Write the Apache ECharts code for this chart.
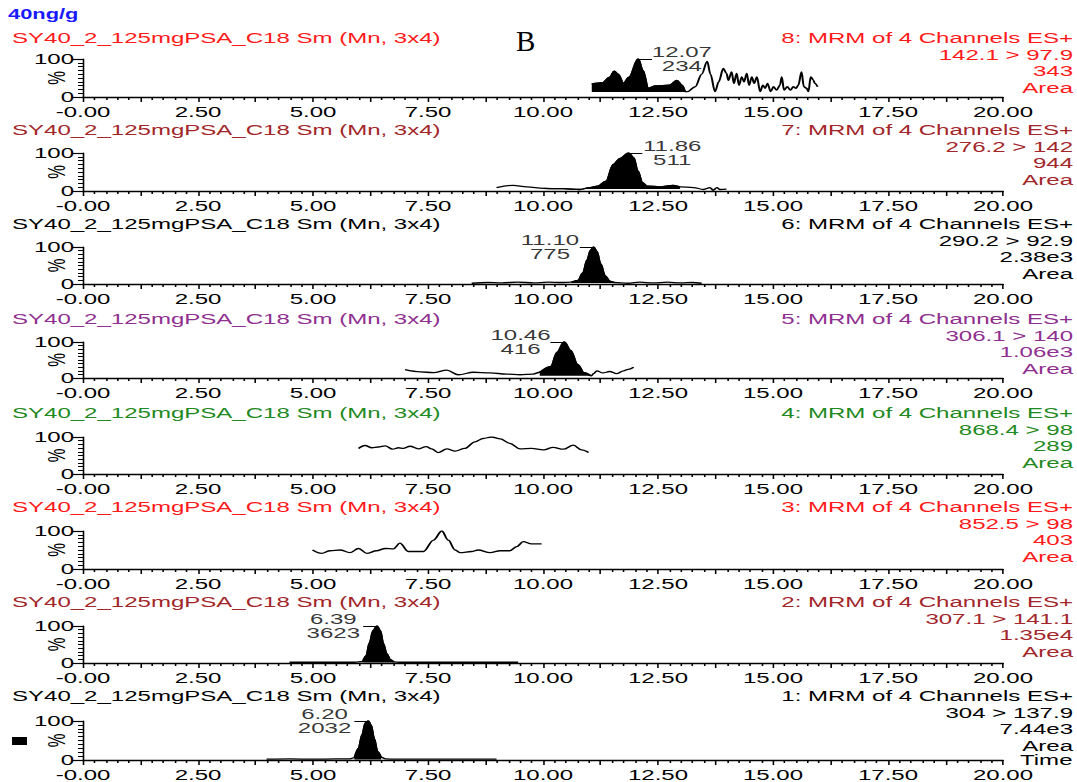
<!DOCTYPE html>
<html>
<head>
<meta charset="utf-8">
<script src="https://cdn.jsdelivr.net/npm/echarts@6/dist/echarts.min.js"></script>
<style>
  html, body { margin: 0; padding: 0; background: #fff; overflow: hidden; }
  #wrap { width: 1077px; height: 782px; overflow: hidden; position: relative; }
  #chart { width: 690px; height: 782px; transform-origin: 0 0; }
</style>
</head>
<body>
<div id="wrap"><div id="chart"></div></div>
<script>
// ---- chromatogram data (time in min, relative intensity in %) ----
const sampleName = 'SY40_2_125mgPSA_C18 Sm (Mn, 3x4)';
const concentration = '40ng/g';
const channelIds = ['8', '7', '6', '5', '4', '3', '2', '1'];
const transitions = ['142.1 > 97.9', '276.2 > 142', '290.2 > 92.9', '306.1 > 140',
                     '868.4 > 98', '852.5 > 98', '307.1 > 141.1', '304 > 137.9'];
const intensities = ['343', '944', '2.38e3', '1.06e3', '289', '403', '1.35e4', '7.44e3'];
const peakTimes = [12.07, 11.86, 11.10, 10.46, null, null, 6.39, 6.20];
const peakAreas = ['234', '511', '775', '416', null, null, '3623', '2032'];
// integrated window [start, end, baseline %]
const integration = [[11.06, 13.09, 13], [10.00, 12.98, 5], [10.62, 11.55, 3], [9.90, 11.08, 6],
                     null, null, [6.08, 6.76, 1.5], [5.88, 6.50, 1.5]];
const xTickLabels = ['-0.00', '2.50', '5.00', '7.50', '10.00', '12.50', '15.00', '17.50', '20.00'];

const trace8 = [[11.06,34],[11.30,38],[11.45,52],[11.55,68],[11.63,60],[11.75,36],[11.87,52],[12.07,100],
  [12.17,70],[12.29,23],[12.45,29],[12.75,31],[12.91,44],[13.02,31],[13.09,14],[13.14,14],[13.31,27],
  [13.45,60],[13.57,94],[13.64,60],[13.74,14],[13.82,40],[13.92,75],[13.99,62],[14.03,44],[14.10,66],
  [14.15,36],[14.21,62],[14.26,31],[14.32,53],[14.37,40],[14.43,62],[14.48,31],[14.54,53],[14.59,36],
  [14.65,53],[14.72,14],[14.78,31],[14.83,23],[14.88,36],[14.95,14],[15.01,27],[15.08,18],[15.15,31],
  [15.19,53],[15.24,18],[15.31,27],[15.38,18],[15.44,27],[15.50,23],[15.55,31],[15.62,66],[15.67,27],
  [15.73,23],[15.77,14],[15.82,53],[15.88,44],[15.91,36],[15.97,27]];
const trace7 = [[8.99,9],[9.35,15],[9.65,11],[10.01,7],[10.44,6],[10.80,4],[11.02,9],[11.19,13],[11.37,26],
  [11.53,70],[11.68,86],[11.86,100],[11.97,88],[12.06,53],[12.16,22],[12.26,13],[12.54,11],[12.83,15],
  [12.98,11],[13.27,9],[13.49,4],[13.63,9],[13.70,2],[13.78,9],[13.85,4],[13.99,5]];
const trace6 = [[8.45,2],[8.80,4],[9.10,3],[9.45,5],[9.80,3],[10.10,5],[10.40,4],[10.62,5],[10.76,10],
  [10.87,30],[10.96,65],[11.04,92],[11.10,100],[11.17,88],[11.25,55],[11.35,22],[11.45,8],[11.55,4],
  [11.85,2],[12.10,5],[12.40,3],[12.70,5],[13.00,3],[13.25,4],[13.45,2]];
const trace5 = [[7.00,23],[7.33,17],[7.62,15],[7.91,22],[8.16,9],[8.49,16],[8.85,14],[9.21,11],[9.50,9],
  [9.79,11],[9.93,16],[10.17,32],[10.31,72],[10.46,100],[10.60,77],[10.75,38],[10.89,15],[11.05,6],
  [11.10,12],[11.17,20],[11.30,14],[11.45,18],[11.60,12],[11.75,20],[11.85,24],[11.97,30]];
const trace4 = [[5.99,69],[6.13,77],[6.28,71],[6.42,73],[6.57,76],[6.73,67],[6.86,71],[6.96,69],[7.11,75],
  [7.29,68],[7.46,74],[7.58,68],[7.72,58],[7.91,68],[8.09,62],[8.30,69],[8.52,87],[8.70,96],[8.88,100],
  [9.07,95],[9.28,83],[9.50,68],[9.75,69],[10.01,65],[10.22,72],[10.44,67],[10.66,78],[10.84,65],[10.99,58]];
const trace3 = [[4.99,50],[5.19,41],[5.37,48],[5.59,50],[5.80,43],[5.99,54],[6.17,41],[6.38,48],[6.57,54],
  [6.75,53],[6.89,68],[7.07,46],[7.40,46],[7.62,76],[7.80,100],[7.94,76],[8.09,50],[8.20,43],[8.45,46],
  [8.59,50],[8.85,43],[9.07,48],[9.28,48],[9.43,59],[9.57,72],[9.75,66],[9.97,66]];
const trace2 = [[4.49,2],[5.00,2],[5.50,2],[5.90,2],[6.08,4],[6.16,20],[6.23,55],[6.31,88],[6.39,100],
  [6.46,88],[6.53,52],[6.60,25],[6.68,9],[6.76,3],[6.90,2],[7.30,2],[7.80,2],[8.30,2],[8.80,2],[9.46,2]];
const trace1 = [[3.99,2],[4.50,3],[5.00,2],[5.50,3],[5.80,3],[5.90,6],[5.99,30],[6.07,65],[6.14,95],
  [6.20,100],[6.26,90],[6.33,55],[6.40,22],[6.48,7],[6.58,3],[6.80,2],[7.30,2],[8.00,2],[8.50,2],[8.99,2]];
const traces = [trace8, trace7, trace6, trace5, trace4, trace3, trace2, trace1];

// ---- page geometry (screen pixels) ----
const SX = 1077 / 690;               // horizontal stretch of the whole plate
const u = px => px / SX;             // screen px -> chart px (x direction)
const axisBottom = [97, 191, 284, 378, 474, 569, 663, 760];
const axisTop = [59, 153, 247, 342, 437, 531, 626, 721];
const titleY = [38, 130, 224, 319, 413, 507, 602, 696];
const titleColors = ['#ff1a1a', '#a3262a', '#000000', '#8f2f8f', '#1f8a22', '#ff1a1a', '#a3262a', '#000000'];
const labelSide = ['right', 'right', 'left', 'left', null, null, 'left', 'left'];
const FAMILY = '"Liberation Sans", Arial, sans-serif';
const FS = 15.4;
const LW = 1.3;

document.getElementById('chart').style.transform = 'scaleX(' + SX + ')';
const chart = echarts.init(document.getElementById('chart'), null, { renderer: 'svg' });

const grids = [], xAxes = [], yAxes = [], series = [], texts = [];

function xLabel(v) {
  const k = v / 2.5;
  if (Math.abs(k - Math.round(k)) > 1e-6) return '';
  return xTickLabels[Math.round(k)];
}

traces.forEach((trace, i) => {
  const last = i === traces.length - 1;
  grids.push({
    left: u(83), right: u(1077 - 1003), top: axisTop[i], height: axisBottom[i] - axisTop[i],
    containLabel: false, outerBoundsMode: 'none'
  });
  xAxes.push({
    gridIndex: i, type: 'value', min: 0, max: 20, interval: 1.25,
    axisLine: { onZero: false, lineStyle: { color: '#000', width: 1.4 } },
    axisTick: { length: 5, lineStyle: { color: '#000', width: 1 } },
    minorTick: { show: true, splitNumber: 5, length: 3, lineStyle: { color: '#000', width: 1 } },
    splitLine: { show: false },
    axisLabel: { formatter: xLabel, color: '#000', fontSize: FS, fontFamily: FAMILY, margin: 7,
                 showMinLabel: true, showMaxLabel: true, hideOverlap: false },
    name: last ? 'Time' : '', nameLocation: 'end', nameGap: u(17), nameMoveOverlap: false,
    nameTextStyle: { color: '#000', fontSize: FS, fontFamily: FAMILY, verticalAlign: 'middle' }
  });
  yAxes.push({
    gridIndex: i, type: 'value', min: 0, max: 100, interval: 100,
    axisLine: { show: true, lineStyle: { color: '#000', width: 1 } },
    axisTick: { show: true, length: u(11), lineStyle: { color: '#000', width: 1.2 } },
    minorTick: { show: true, splitNumber: 10, length: u(5), lineStyle: { color: '#000', width: 1 } },
    splitLine: { show: false },
    axisLabel: { color: '#000', fontSize: FS, fontFamily: FAMILY, margin: u(9) },
    name: '%', nameLocation: 'middle', nameRotate: 90, nameGap: u(15), nameMoveOverlap: false,
    nameTextStyle: { color: '#000', fontSize: FS, fontFamily: FAMILY }
  });

  series.push({
    type: 'line', xAxisIndex: i, yAxisIndex: i, data: trace, symbol: 'none',
    smooth: 0.35, smoothMonotone: 'x', lineStyle: { color: '#000', width: LW }, silent: true, z: 3
  });

  const win = integration[i];
  if (win) {
    series.push({
      type: 'line', xAxisIndex: i, yAxisIndex: i, symbol: 'none', smooth: 0.35, smoothMonotone: 'x',
      data: trace.filter(p => p[0] >= win[0] - 1e-9 && p[0] <= win[1] + 1e-9),
      lineStyle: { color: '#000', width: LW }, areaStyle: { color: '#000', opacity: 1, origin: win[2] },
      silent: true, z: 2
    });
  }

  if (peakTimes[i] !== null) {
    const side = labelSide[i];
    const t = peakTimes[i];
    series.push({
      type: 'scatter', xAxisIndex: i, yAxisIndex: i, symbolSize: 0, silent: true, z: 5,
      data: [[t, 100]],
      label: {
        show: true, position: side, distance: u(14),
        formatter: '{v|' + t.toFixed(2) + '}\n{a|' + peakAreas[i] + '}',
        rich: {
          v: { width: 38, align: 'center', fontSize: FS, fontFamily: FAMILY, color: '#000', lineHeight: 14 },
          a: { width: 38, align: 'center', fontSize: FS, fontFamily: FAMILY, color: '#000', lineHeight: 14 }
        }
      },
      markLine: {
        silent: true, symbol: ['none', 'none'], animation: false,
        label: { show: false },
        lineStyle: { color: '#000', width: 1, type: 'solid' },
        data: [[{ coord: [t, 100] }, { coord: [t + (side === 'right' ? 0.3 : -0.3), 100] }]]
      }
    });
  }

  // sample name (left) and channel description block (right)
  texts.push({
    type: 'text', x: u(12), y: titleY[i] - 9, silent: true,
    style: { text: sampleName, fill: titleColors[i], fontSize: FS, fontFamily: FAMILY,
             textVerticalAlign: 'top', lineHeight: 18 }
  });
  texts.push({
    type: 'text', x: u(1073), y: titleY[i] - 8.5, silent: true,
    style: { text: channelIds[i] + ': MRM of 4 Channels ES+\n' + transitions[i] + '\n' + intensities[i] + '\nArea',
             fill: titleColors[i], fontSize: FS, fontFamily: FAMILY, textAlign: 'right',
             textVerticalAlign: 'top', lineHeight: 16.5 }
  });
});

texts.push({
  type: 'text', x: u(8), y: 7, silent: true,
  style: { text: concentration, fill: '#1a1aff', fontSize: 14, fontWeight: 'bold', fontFamily: FAMILY,
           textVerticalAlign: 'top' }
});
texts.push({
  type: 'text', x: u(516), y: 26, scaleX: 1 / SX, scaleY: 1, silent: true,
  style: { text: 'B', fill: '#000', fontSize: 29, fontFamily: '"Liberation Serif", "Times New Roman", serif',
           textVerticalAlign: 'top' }
});
texts.push({
  type: 'rect', silent: true, shape: { x: u(12), y: 737, width: u(15), height: 8 }, style: { fill: '#000' }
});

chart.setOption({
  animation: false,
  backgroundColor: '#fff',
  grid: grids,
  xAxis: xAxes,
  yAxis: yAxes,
  series: series,
  graphic: texts
});
</script>
</body>
</html>
